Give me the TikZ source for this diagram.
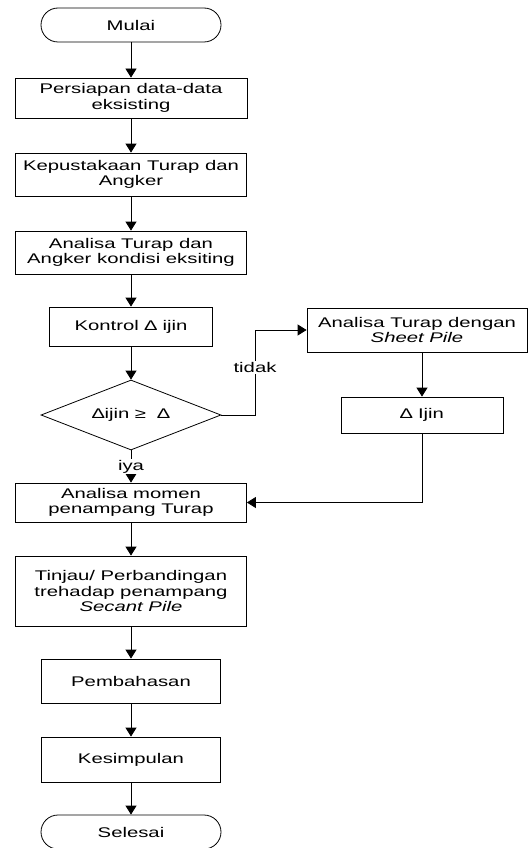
\documentclass[tikz,border=0pt]{standalone}
\usepackage{fontspec}
\setmainfont{Liberation Sans}[FakeStretch=1.45]
\usetikzlibrary{shapes,arrows.meta,calc}

\begin{document}
\begin{tikzpicture}[x=1pt,y=-1pt,line width=.8pt,
    font=\fontsize{14}{15.5}\selectfont,
    kotak/.style={draw,rectangle,align=center,inner sep=0pt},
    ujung/.style={draw,rounded rectangle,inner sep=0pt,minimum width=180pt,minimum height=34pt},
    cabang/.style={draw,diamond,aspect=2.5,inner sep=0pt,minimum width=180pt,minimum height=70pt},
    panah/.style={-{Triangle[width=11pt,length=9pt]}}]
        \useasboundingbox (0,0) rectangle (529,848);
        \node[ujung] (mulai) at (131,25) {Mulai};
        \node[kotak,minimum width=232pt,minimum height=40pt] (persiapan) at (131,98) {Persiapan data-data\\eksisting};
        \node[kotak,minimum width=231pt,minimum height=43pt] (pustaka) at (131,174.5) {Kepustakaan Turap dan\\Angker};
        \node[kotak,minimum width=231pt,minimum height=43pt] (eksisting) at (131,252.5) {Analisa Turap dan\\Angker kondisi eksiting};
        \node[kotak,minimum width=163pt,minimum height=39pt] (kontrol) at (131,326.5) {Kontrol ∆ ijin};
        \node[cabang] (cek) at (131,415) {∆ijin ≥~~∆};
        \node[kotak,minimum width=220pt,minimum height=44pt] (sheet) at (417,330) {Analisa Turap dengan\\\textit{Sheet Pile}};
        \node[kotak,minimum width=162pt,minimum height=36pt] (ijin) at (422,415) {∆ Ijin};
        \node[kotak,minimum width=231pt,minimum height=39pt] (momen) at (131,502.5) {Analisa momen\\penampang Turap};
        \node[kotak,minimum width=231pt,minimum height=70pt] (tinjau) at (131,591) {Tinjau/ Perbandingan\\trehadap penampang\\\textit{Secant Pile}};
        \node[kotak,minimum width=179pt,minimum height=44pt] (bahas) at (131,681) {Pembahasan};
        \node[kotak,minimum width=179pt,minimum height=45pt] (simpul) at (131,759.5) {Kesimpulan};
        \node[ujung] (selesai) at (131,832) {Selesai};
        \coordinate (belok) at (255,415);

        % alur utama
        \foreach \a/\b in {mulai/persiapan,persiapan/pustaka,pustaka/eksisting,eksisting/kontrol,kontrol/cek,momen/tinjau,tinjau/bahas,bahas/simpul,simpul/selesai,sheet/ijin} {
          \draw[panah] (\b.north |- \a.south) -- (\b.north);
        }
        \draw[panah] (cek.south) -- node[fill=white,inner sep=1pt]{iya} (momen.north);
        \draw[panah] (cek.east) -- (belok) |- node[pos=.28,fill=white,inner sep=1pt]{tidak} (sheet.west);
        \draw[panah] (ijin.south) |- (momen.east);
      \end{tikzpicture}
\end{document}
